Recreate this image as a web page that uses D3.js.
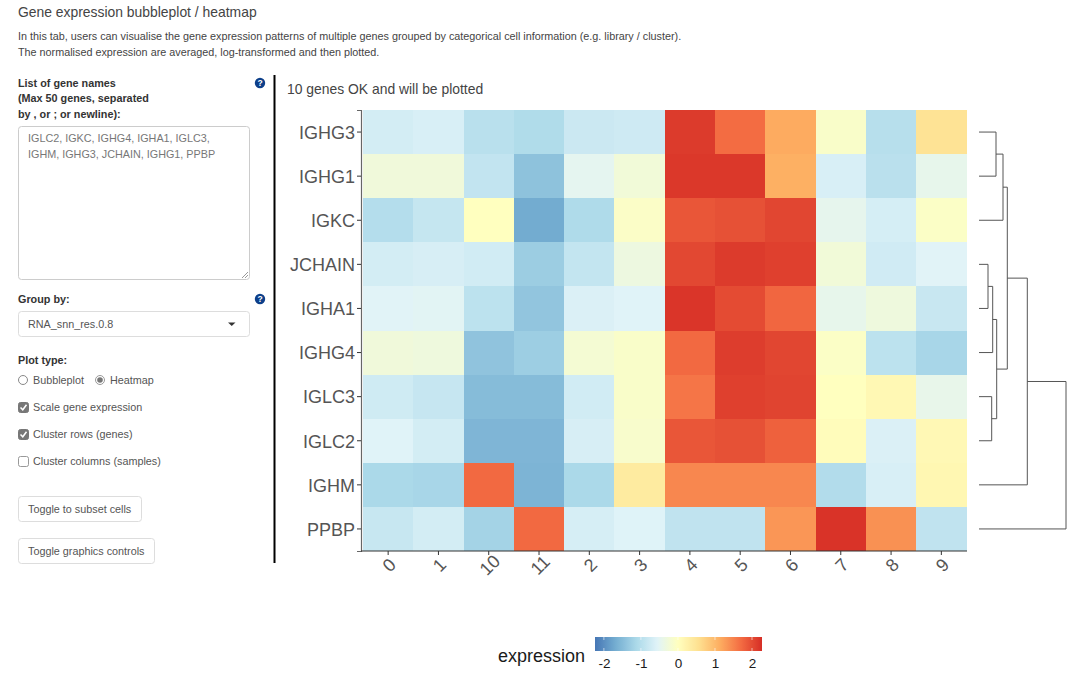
<!DOCTYPE html>
<html>
<head>
<meta charset="utf-8">
<script src="https://cdnjs.cloudflare.com/ajax/libs/d3/7.8.5/d3.min.js"></script>
<style>
  body { margin: 0; background: #fff; overflow: hidden; }
  svg { display: block; font-family: "Liberation Sans", Arial, sans-serif; }
</style>
</head>
<body>
<svg id="page" width="1080" height="695"></svg>
<script>
// values
const clusters = ["0","1","10","11","2","3","4","5","6","7","8","9"];
const genes = ["IGHG3","IGHG1","IGKC","JCHAIN","IGHA1","IGHG4","IGLC3","IGLC2","IGHM","PPBP"];

const IGHG3  = [-0.70,-0.65,-0.98,-1.07,-0.79,-0.75,2.15,1.70,1.15,-0.10,-1.00,0.50];
const IGHG1  = [-0.27,-0.27,-0.88,-1.42,-0.48,-0.25,2.18,2.18,1.10,-0.65,-0.97,-0.43];
const IGKC   = [-1.03,-0.85,0,-1.70,-1.08,-0.08,1.90,1.95,2.05,-0.45,-0.68,-0.07];
const JCHAIN = [-0.70,-0.66,-0.72,-1.28,-0.87,-0.33,2.03,2.15,2.10,-0.25,-0.73,-0.55];
const IGHA1  = [-0.55,-0.52,-0.94,-1.38,-0.62,-0.56,2.20,2.00,1.75,-0.43,-0.30,-0.82];
const IGHG4  = [-0.27,-0.30,-1.40,-1.27,-0.20,-0.10,1.72,2.13,2.05,-0.07,-0.94,-1.16];
const IGLC3  = [-0.74,-0.84,-1.50,-1.50,-0.72,-0.10,1.62,2.10,2.07,0,0.13,-0.42];
const IGLC2  = [-0.56,-0.70,-1.58,-1.58,-0.66,-0.13,1.90,1.95,1.80,0.05,-0.62,0.12];
const IGHM   = [-1.12,-1.16,1.72,-1.60,-1.13,0.37,1.46,1.46,1.46,-1.05,-0.65,0.15];
const PPBP   = [-0.83,-0.70,-1.20,1.72,-0.67,-0.57,-0.90,-0.90,1.33,2.22,1.38,-0.90];
const rows = [IGHG3,IGHG1,IGKC,JCHAIN,IGHA1,IGHG4,IGLC3,IGLC2,IGHM,PPBP];

// dendrogram merges: [child, child, merge height]. "mN" is the Nth merge
const merges = [
  ["IGHG3","IGHG1",1.7],
  ["m0","IGKC",2.4],
  ["JCHAIN","IGHA1",0.9],
  ["m2","IGHG4",1.37],
  ["IGLC3","IGLC2",1.27],
  ["m3","m4",1.77],
  ["m1","m5",2.83],
  ["m6","IGHM",4.83],
  ["m7","PPBP",8.7]
];

const legendTicks = [-2,-1,0,1,2];
const colorDomain = [-2.25,-1.6875,-1.125,-0.5625,0,0.5625,1.125,1.6875,2.25];
const colorRange = ["#4575b4","#74add1","#abd9e9","#e0f3f8","#ffffbf","#fee090","#fdae61","#f46d43","#d73027"];

const geneList = ["IGLC2, IGKC, IGHG4, IGHA1, IGLC3,","IGHM, IGHG3, JCHAIN, IGHG1, PPBP"];

const svg = d3.select("#page");
const color = d3.scaleLinear().domain(colorDomain).range(colorRange);

// ---- page text and controls
function label(x, y, str, size, col, weight) {
  return svg.append("text").attr("x", x).attr("y", y).attr("dy", "0.35em")
    .attr("font-size", size).attr("fill", col || "#333")
    .attr("font-weight", weight || "normal").text(str);
}
function box(x, y, w, h, stroke, fill, r) {
  return svg.append("rect").attr("x", x + 0.5).attr("y", y + 0.5).attr("width", w).attr("height", h)
    .attr("rx", r === undefined ? 3 : r).attr("fill", fill || "#fff").attr("stroke", stroke || "#ddd");
}
function helpIcon(x, y) {
  svg.append("circle").attr("cx", x).attr("cy", y).attr("r", 5.2).attr("fill", "#0d3f8a");
  label(x, y, "?", 8.5, "#fff", "bold").attr("text-anchor", "middle");
}
function checkbox(y, str, checked) {
  box(18, y - 5, 10, 10, checked ? "#777" : "#999", checked ? "#777" : "#fff", 2);
  if (checked) {
    svg.append("path").attr("d", `M20.5 ${y+0.5}L22.8 ${y+2.8}L26.5 ${y-2.2}`)
      .attr("fill", "none").attr("stroke", "#fff").attr("stroke-width", 1.5);
  }
  label(33, y, str, 10.8, "#555");
}

label(18, 12, "Gene expression bubbleplot / heatmap", 13.9, "#444");
label(18, 36.5, "In this tab, users can visualise the gene expression patterns of multiple genes grouped by categorical cell information (e.g. library / cluster).", 10.8, "#444");
label(18, 52, "The normalised expression are averaged, log-transformed and then plotted.", 10.8, "#444");

label(18, 83, "List of gene names", 10.8, "#333", "bold");
label(18, 98.5, "(Max 50 genes, separated", 10.8, "#333", "bold");
label(18, 114, "by , or ; or newline):", 10.8, "#333", "bold");
helpIcon(260, 83);

box(18, 126, 231, 153, "#ccc");
geneList.forEach((d, i) => label(28, 138.5 + i * 15.5, d, 10.8, "#777"));
svg.append("path").attr("d", "M242 278L248 272M245 278L248 275").attr("stroke", "#999").attr("fill", "none");

label(18, 299, "Group by:", 10.8, "#333", "bold");
helpIcon(260, 299);
box(18, 311, 231, 25, "#ddd");
label(28, 324, "RNA_snn_res.0.8", 10.8, "#555");
svg.append("path").attr("d", "M228 322.5h7.5l-3.75 3.5z").attr("fill", "#333");

label(18, 360.5, "Plot type:", 10.8, "#333", "bold");
svg.append("circle").attr("cx", 23).attr("cy", 380).attr("r", 4.5).attr("fill", "#fff").attr("stroke", "#888");
label(33, 380, "Bubbleplot", 10.8, "#555");
svg.append("circle").attr("cx", 100).attr("cy", 380).attr("r", 4.5).attr("fill", "#fff").attr("stroke", "#999");
svg.append("circle").attr("cx", 100).attr("cy", 380).attr("r", 2.8).attr("fill", "#777");
label(110, 380, "Heatmap", 10.8, "#555");

checkbox(407, "Scale gene expression", true);
checkbox(434, "Cluster rows (genes)", true);
checkbox(461, "Cluster columns (samples)", false);

box(18, 496, 123, 25, "#ddd");
label(28, 509, "Toggle to subset cells", 10.8, "#555");
box(18, 538, 136, 25, "#ddd");
label(28, 551, "Toggle graphics controls", 10.8, "#555");

svg.append("line").attr("x1", 274.5).attr("x2", 274.5).attr("y1", 75).attr("y2", 563)
  .attr("stroke", "#000").attr("stroke-width", 2);

label(287, 89, "10 genes OK and will be plotted", 13.9, "#444");

// ---- heatmap
const x = d3.scaleBand().domain(clusters).range([363, 966.5]);
const y = d3.scaleBand().domain(genes).range([110, 551]);

svg.append("g").attr("shape-rendering", "crispEdges").selectAll("g").data(rows).join("g")
  .attr("data-gene", (d, i) => genes[i])
  .each(function(vals, i) {
    d3.select(this).selectAll("rect").data(vals).join("rect")
      .attr("x", (d, j) => x(clusters[j]))
      .attr("y", y(genes[i]))
      .attr("width", x.bandwidth())
      .attr("height", y.bandwidth())
      .attr("fill", d => color(d));
  });

const yAxis = svg.append("g").attr("transform", "translate(361,0)")
  .call(d3.axisLeft(y).tickSize(4).tickPadding(2));
yAxis.select(".domain").attr("stroke", "#666").attr("stroke-width", 1.2);
yAxis.selectAll(".tick line").attr("stroke", "#333");
yAxis.selectAll("text").attr("font-size", 18).attr("fill", "#555").attr("dy", "0.38em")
  .attr("font-family", '"Liberation Sans", Arial, sans-serif');

const xAxis = svg.append("g").attr("transform", "translate(0,551)")
  .call(d3.axisBottom(x).tickSize(4).tickPadding(2));
xAxis.select(".domain").attr("stroke", "#333").attr("stroke-width", 1.2)
  .attr("d", "M361,0H967");
xAxis.selectAll(".tick line").attr("stroke", "#333");
xAxis.selectAll("text").attr("font-size", 18).attr("fill", "#555")
  .attr("font-family", '"Liberation Sans", Arial, sans-serif')
  .attr("text-anchor", "middle").attr("y", 0).attr("dy", "0.35em")
  .attr("transform", "translate(1,14) rotate(-45)");

// ---- dendrogram
const dx = d3.scaleLinear().domain([0, 8.7]).range([979, 1066]);
const nodes = {};
genes.forEach(g => { nodes[g] = { h: 0, y: y(g) + y.bandwidth() / 2 }; });
const dendroPath = d3.path();
merges.forEach((m, i) => {
  const a = nodes[m[0]], b = nodes[m[1]], h = m[2];
  dendroPath.moveTo(dx(a.h), a.y);
  dendroPath.lineTo(dx(h), a.y);
  dendroPath.lineTo(dx(h), b.y);
  dendroPath.lineTo(dx(b.h), b.y);
  nodes["m" + i] = { h: h, y: (a.y + b.y) / 2 };
});
svg.append("path").attr("d", dendroPath.toString())
  .attr("fill", "none").attr("stroke", "#555").attr("stroke-width", 1);

// ---- legend
const legendX = d3.scaleLinear().domain([-2.24, 2.27]).range([595, 762]);
const grad = svg.append("defs").append("linearGradient").attr("id", "legendGrad");
d3.range(-2.24, 2.27, 0.05).forEach(v => {
  grad.append("stop").attr("offset", (v + 2.24) / 4.51).attr("stop-color", color(v));
});
svg.append("rect").attr("x", 595).attr("y", 637).attr("width", 167).attr("height", 14)
  .attr("fill", "url(#legendGrad)");
const legendG = svg.append("g").attr("transform", "translate(0,651)")
  .call(d3.axisBottom(legendX).tickValues(legendTicks).tickFormat(d => String(d)).tickSize(0).tickPadding(7));
legendG.select(".domain").remove();
legendG.selectAll("text").attr("font-size", 13.5).attr("fill", "#1a1a1a")
  .attr("font-family", '"Liberation Sans", Arial, sans-serif');
svg.append("g").selectAll("path").data(legendTicks).join("path")
  .attr("d", d => `M${legendX(d)} 637v3M${legendX(d)} 651v-3`)
  .attr("stroke", "#fff").attr("stroke-width", 0.6);
label(498, 656, "expression", 18, "#1a1a1a");
</script>
</body>
</html>
